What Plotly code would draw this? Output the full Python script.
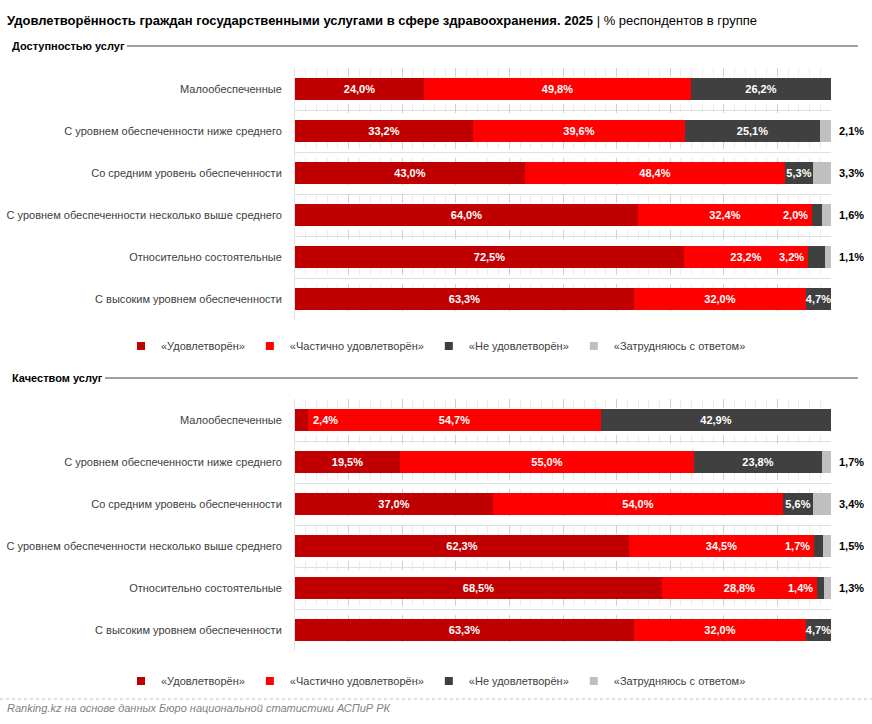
import plotly.graph_objects as go

categories = [
    "Малообеспеченные",
    "С уровнем обеспеченности ниже среднего",
    "Со средним уровень обеспеченности",
    "С уровнем обеспеченности несколько выше среднего",
    "Относительно состоятельные",
    "С высоким уровнем обеспеченности",
]
series_names = ["«Удовлетворён»", "«Частично удовлетворён»", "«Не удовлетворён»", "«Затрудняюсь с ответом»"]
colors = ["#C00000", "#FF0000", "#404040", "#BFBFBF"]

# Доступностью услуг
avail_sat = [24.0, 33.2, 43.0, 64.0, 72.5, 63.3]
avail_part = [49.8, 39.6, 48.4, 32.4, 23.2, 32.0]
avail_not = [26.2, 25.1, 5.3, 2.0, 3.2, 4.7]
avail_dk = [0.0, 2.1, 3.3, 1.6, 1.1, 0.0]

# Качеством услуг
qual_sat = [2.4, 19.5, 37.0, 62.3, 68.5, 63.3]
qual_part = [54.7, 55.0, 54.0, 34.5, 28.8, 32.0]
qual_not = [42.9, 23.8, 5.6, 1.7, 1.4, 4.7]
qual_dk = [0.0, 1.7, 3.4, 1.5, 1.3, 0.0]

FONT = "Liberation Sans, Arial, sans-serif"
W, H = 872, 724


def fmt(v):
    return f"{v:.1f}".replace(".", ",") + "%"


def py(px):
    return 1 - px / H


fig = go.Figure()
ypos = list(range(len(categories)))
annotations = []

panels = [
    (dict(sat=avail_sat, part=avail_part, nt=avail_not, dk=avail_dk), "x", "y", "legend"),
    (dict(sat=qual_sat, part=qual_part, nt=qual_not, dk=qual_dk), "x2", "y2", "legend2"),
]

for d, xa, ya, lg in panels:
    vals = [d["sat"], d["part"], d["nt"], d["dk"]]
    for si, (name, col, v) in enumerate(zip(series_names, colors, vals)):
        texts = []
        for i, val in enumerate(v):
            t = ""
            if si in (0, 1, 2) and val >= 4:
                t = "<b>" + fmt(val) + "</b>"
            texts.append(t)
        fig.add_trace(go.Bar(
            x=v, y=ypos, orientation="h", name=name,
            marker=dict(color=col, line=dict(width=0)),
            text=texts, textposition="inside", insidetextanchor="middle",
            textfont=dict(color="white", size=11, family=FONT),
            width=0.52, xaxis=xa, yaxis=ya, showlegend=False, hoverinfo="skip",
        ))
        # legend entry (small square swatch)
        fig.add_trace(go.Scatter(
            x=[None], y=[None], mode="markers", name=name,
            marker=dict(symbol="square", size=8, color=col),
            xaxis=xa, yaxis=ya, legend=lg, showlegend=True, hoverinfo="skip",
        ))
    # special labels
    for i in ypos:
        s, p, n, k = d["sat"][i], d["part"][i], d["nt"][i], d["dk"][i]
        if s < 4:
            annotations.append(dict(x=s, y=i, xref=xa, yref=ya, text="<b>" + fmt(s) + "</b>",
                                    showarrow=False, xanchor="left", xshift=3,
                                    font=dict(color="white", size=11, family=FONT)))
        if 0 < n < 4:
            annotations.append(dict(x=s + p, y=i, xref=xa, yref=ya, text="<b>" + fmt(n) + "</b>",
                                    showarrow=False, xanchor="right", xshift=-2,
                                    font=dict(color="white", size=11, family=FONT)))
        if k > 0:
            annotations.append(dict(x=100, y=i, xref=xa, yref=ya, text="<b>" + fmt(k) + "</b>",
                                    showarrow=False, xanchor="left", xshift=6,
                                    font=dict(color="black", size=11, family=FONT)))

xd = [295 / W, 831 / W]
axis_x = dict(range=[0, 100], domain=xd, showticklabels=False, zeroline=False,
              showgrid=True, dtick=10, gridcolor="#d0d0d0", griddash="dash", gridwidth=1,
              minor=dict(dtick=2, showgrid=True, gridcolor="#ececec", gridwidth=1),
              showline=False, fixedrange=True)
axis_y = dict(range=[5.5, -0.5], tickvals=ypos, ticktext=categories, showgrid=False,
              zeroline=False, ticks="", ticklabelstandoff=10,
              tickfont=dict(size=11, color="#404040", family=FONT),
              minor=dict(tickvals=[i + 0.5 for i in range(-1, 6)], showgrid=True,
                         gridcolor="#e0e0e0", gridwidth=1),
              showline=True, linecolor="#e0e0e0", linewidth=1)

legend_common = dict(orientation="h", x=0.5, xanchor="center", yanchor="middle",
                     font=dict(size=11, color="#404040", family=FONT), itemwidth=30,
                     traceorder="normal", itemclick=False, tracegroupgap=0)

fig.update_layout(
    width=W, height=H, margin=dict(l=0, r=0, t=0, b=0),
    paper_bgcolor="white", plot_bgcolor="white",
    barmode="stack", bargap=0,
    uniformtext=dict(minsize=11, mode="show"),
    font=dict(family=FONT, size=11, color="#404040"),
    xaxis=dict(axis_x, anchor="y"),
    yaxis=dict(axis_y, domain=[py(320), py(68)], anchor="x"),
    xaxis2=dict(axis_x, anchor="y2"),
    yaxis2=dict(axis_y, domain=[py(651), py(399)], anchor="x2"),
    legend=dict(legend_common, y=py(346)),
    legend2=dict(legend_common, y=py(681)),
    showlegend=True,
)

# Title and section headers
annotations += [
    dict(x=5 / W, y=py(20), xref="paper", yref="paper", xanchor="left", yanchor="middle",
         showarrow=False,
         text="<b>Удовлетворённость граждан государственными услугами в сфере здравоохранения. 2025</b> | % респондентов в группе",
         font=dict(size=13, color="black", family=FONT)),
    dict(x=10 / W, y=py(46), xref="paper", yref="paper", xanchor="left", yanchor="middle",
         showarrow=False, text="<b>Доступностью услуг</b>",
         font=dict(size=11, color="black", family=FONT)),
    dict(x=10 / W, y=py(378), xref="paper", yref="paper", xanchor="left", yanchor="middle",
         showarrow=False, text="<b>Качеством услуг</b>",
         font=dict(size=11, color="black", family=FONT)),
    dict(x=5 / W, y=py(708), xref="paper", yref="paper", xanchor="left", yanchor="middle",
         showarrow=False, text="<i>Ranking.kz на основе данных Бюро национальной статистики АСПиР РК</i>",
         font=dict(size=11, color="#7f7f7f", family=FONT)),
]
fig.update_layout(annotations=annotations)

fig.add_shape(type="line", xref="paper", yref="paper", x0=127 / W, x1=858 / W, y0=py(46), y1=py(46),
              line=dict(color="#404040", width=1))
fig.add_shape(type="line", xref="paper", yref="paper", x0=105 / W, x1=858 / W, y0=py(378), y1=py(378),
              line=dict(color="#404040", width=1))
fig.add_shape(type="line", xref="paper", yref="paper", x0=0, x1=1, y0=py(699), y1=py(699),
              line=dict(color="#bfbfbf", width=1, dash="dot"))

fig.write_html("out.html")
